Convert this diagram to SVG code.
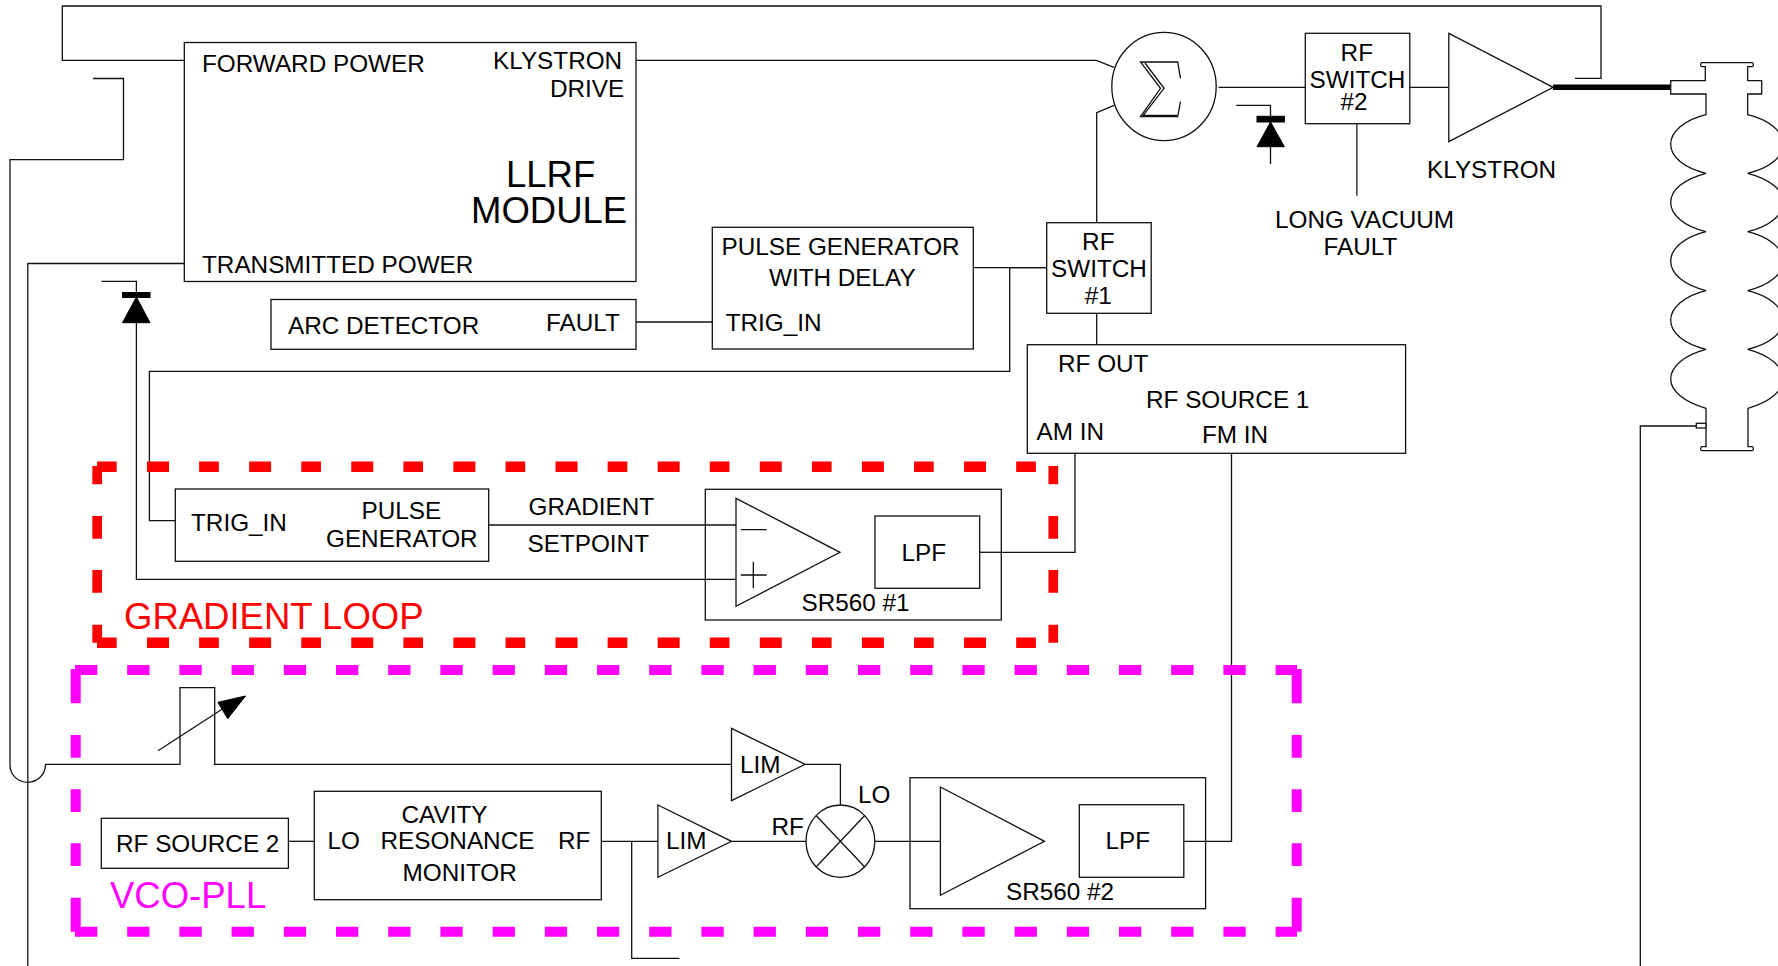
<svg xmlns="http://www.w3.org/2000/svg" width="1778" height="966" viewBox="0 0 1778 966">
<style>
rect,polygon,ellipse,.o{fill:#fff;stroke:#111;stroke-width:1.3}
.c path,.c line,.o{fill:none;stroke:#111;stroke-width:1.3}
.k{fill:#000;stroke:#000;stroke-width:1}
text{font-family:"Liberation Sans",Arial,sans-serif;font-size:24.3px;fill:#000}
.b{font-size:36.5px}
.dr{fill:none;stroke:#f00;stroke-width:10.5}
.dv{stroke-width:9.7}
.dm{fill:none;stroke:#f0f;stroke-width:10}
.lr{font-size:36.5px;fill:#f00}
.lm{font-size:36.5px;fill:#f0f}
.m{text-anchor:middle}
</style>
<g id="connectors" class="c">
<path d="M184 60.3H62.3V6H1601V78.3H1575"/>
<path d="M93 78.5H123.5V159.7H10V765C10 775 18 782.3 27.7 782.3C37 782.3 45.5 775 45.5 764.3H180V687.7H214.7V764.3H731.5"/>
<path d="M184 263.5H27.8V966"/>
<path d="M101.5 281.3H136.4V579.3H736"/>
<path d="M1046.7 267.7H1009.7V371.3H149.4V520.7H175.3"/>
<path d="M636 322H712.3"/>
<path d="M973.3 267.7H1046.7"/>
<path d="M636 60.3H1096.4L1114 67.3"/>
<path d="M1096.7 222.7V112.7L1114 105.3"/>
<path d="M1096.7 313.3V344.7"/>
<path d="M1075 453.3V552.3H979.7"/>
<path d="M840 552.3H875"/>
<path d="M488.7 525H736"/>
<path d="M1218.5 87.3H1305.3"/>
<path d="M1409.8 87.3H1448.8"/>
<path d="M1356.9 123.7V195.7"/>
<path d="M1236.2 105.3H1270.5V164"/>
<path d="M1553 87.3H1670.7" style="stroke:#000;stroke-width:5.5"/>
<path d="M1696.3 426H1640.3V966"/>
<path d="M805.2 764.3H840.4V805"/>
<path d="M731.5 841.3H806"/>
<path d="M874.8 841.3H940.4"/>
<path d="M1044.5 841.3H1079.3"/>
<path d="M1183.8 841.3H1231.5V453.3"/>
<path d="M288.4 841.3H314.3"/>
<path d="M601.3 841.3H657.9"/>
<path d="M631.7 841.3V958.3H679.5"/>
<line x1="158" y1="750.7" x2="224" y2="708"/>
<polygon class="k" points="245.5,696 217.9,702.3 227.7,718.7"/>
<polygon class="k" points="136.4,297 122.5,322.7 150,322.7"/>
<rect class="k" x="122.5" y="292.5" width="27.5" height="5"/>
<polygon class="k" points="1270.5,122 1257,146.7 1284.4,146.7"/>
<rect class="k" x="1257" y="116.3" width="27.4" height="5.7"/>
</g>
<g id="gradient-loop-boundary">
<path class="dr" d="M97 466.7H1053.3" stroke-dasharray="19.7 30.3 22 30.13" />
<path class="dr" d="M97 642.7H1053.3" stroke-dasharray="19.7 30.3 22 30.13" />
<path class="dr dv" d="M97.2 466V643" stroke-dasharray="18.3 31.7 22.7 31.3 22.7 32 18"/>
<path class="dr dv" d="M1053.3 466V643" stroke-dasharray="18.3 31.7 22.7 31.3 22.7 32 18"/>
<text class="lr" x="124" y="629">GRADIENT LOOP</text>
</g>
<g id="vco-pll-boundary">
<path class="dm" d="M75 670H1297" stroke-dasharray="22.3 29.9"/>
<path class="dm" d="M75 931.7H1297" stroke-dasharray="22.3 29.9"/>
<path class="dm" d="M75.7 669V932" stroke-dasharray="34.3 31.7 22.7 31.6 22.7 31.3 22.7 31.7 34"/>
<path class="dm" d="M1296.7 669V932" stroke-dasharray="34.3 31.7 22.7 31.6 22.7 31.3 22.7 31.7 34"/>
<text class="lm" x="110" y="908.3">VCO-PLL</text>
</g>
<g id="lrf-module">
<rect x="184.3" y="42.5" width="451.7" height="239"/>
<text x="202" y="71.7">FORWARD POWER</text>
<text x="493" y="69.3">KLYSTRON</text>
<text x="550" y="96.7">DRIVE</text>
<text class="b" x="506" y="186.7">LLRF</text>
<text class="b" x="471" y="222.7">MODULE</text>
<text x="202" y="272.7">TRANSMITTED POWER</text>
</g>
<g id="arc-detector">
<rect x="271" y="299.5" width="365" height="49.8"/>
<text x="288" y="334">ARC DETECTOR</text>
<text x="546" y="330.7">FAULT</text>
</g>
<g id="pulse-generator-with-delay">
<rect x="712.3" y="227.3" width="261" height="121.7"/>
<text x="721.5" y="255">PULSE GENERATOR</text>
<text x="769" y="286">WITH DELAY</text>
<text x="725.7" y="330.7">TRIG_IN</text>
</g>
<g id="rf-switch-1">
<rect x="1046.7" y="222.7" width="104.5" height="90.6"/>
<text class="m" x="1098.3" y="250">RF</text>
<text class="m" x="1099" y="276.7">SWITCH</text>
<text class="m" x="1098.3" y="304">#1</text>
</g>
<g id="rf-source-1">
<rect x="1027.3" y="344.7" width="378.3" height="108.6"/>
<text x="1058" y="372">RF OUT</text>
<text x="1146" y="407.7">RF SOURCE 1</text>
<text x="1036.5" y="440">AM IN</text>
<text x="1202" y="443.3">FM IN</text>
</g>
<g id="summer">
<ellipse cx="1164" cy="86.5" rx="52.2" ry="54.2"/>
<path class="o" d="M1180.5 78.3L1177.7 62H1140.5L1160.5 88.3L1140.5 116.7H1177.7L1180.5 101.7"/>
<path class="o" d="M1145 63L1164 88.3L1143 115.5H1177"/>
</g>
<g id="rf-switch-2">
<rect x="1305.3" y="33.3" width="104.5" height="90.4"/>
<text class="m" x="1356.8" y="61">RF</text>
<text class="m" x="1357.5" y="87.7">SWITCH</text>
<text class="m" x="1354" y="110">#2</text>
</g>
<g id="klystron">
<polygon points="1448.8,33.3 1448.8,141.7 1553.2,87.3"/>
<text x="1427" y="177.7">KLYSTRON</text>
</g>
<g id="long-vacuum-fault">
<text x="1275" y="227.7">LONG VACUUM</text>
<text x="1323.5" y="255">FAULT</text>
</g>
<g id="cavity">
<path class="o" d="M1670.7 80.7H1705.3V66.7H1702Q1700.7 66.7 1700.7 65V64.4Q1700.7 62.7 1702 62.7H1752Q1753.3 62.7 1753.3 64.4V65Q1753.3 66.7 1752 66.7H1747.7V80.7H1761.7V94H1747.7V114.7C1770 120 1783 132 1783 144C1783 157 1770 168 1747.7 173.3C1770 179 1783 190 1783 202.5C1783 215 1770 226 1747.7 231.7C1770 237 1783 249 1783 261C1783 274 1770 285 1747.7 290.7C1770 296 1783 308 1783 320C1783 333 1770 344 1747.7 349.3C1770 355 1783 367 1783 379C1783 391 1770 402 1748 408.3V446.7H1752Q1753.3 446.7 1753.3 448.4V449Q1753.3 450.7 1752 450.7H1702Q1700.7 450.7 1700.7 449V448.4Q1700.7 446.7 1702 446.7H1706V408.3C1684 402 1670.7 391 1670.7 379C1670.7 367 1684 355 1706 349.3C1684 344 1670.7 333 1670.7 320C1670.7 308 1684 296 1706 290.7C1684 285 1670.7 274 1670.7 261C1670.7 249 1684 237 1706 231.7C1684 226 1670.7 215 1670.7 202.5C1670.7 190 1684 179 1706 173.3C1684 168 1670.7 157 1670.7 144C1670.7 132 1684 120 1706 114.7V94H1670.7Z"/>
<rect x="1696.3" y="423.3" width="9.7" height="4.7"/>
</g>
<g id="pulse-generator">
<rect x="175.3" y="489" width="313.4" height="72.3"/>
<text x="191" y="531">TRIG_IN</text>
<text x="361.5" y="519.3">PULSE</text>
<text x="326" y="546.7">GENERATOR</text>
</g>
<g id="gradient-setpoint">
<text x="528.5" y="515">GRADIENT</text>
<text x="527.5" y="551.7">SETPOINT</text>
</g>
<g id="sr560-1">
<rect x="705.3" y="489.3" width="296" height="130.7"/>
<path class="o" d="M705.3 525H736M705.3 579.3H736"/>
<polygon points="736,498.3 736,606.3 840,552.3"/>
<path class="o" d="M740.7 529.7H766.7M740.7 575H766.7M753.3 561.7V588.3"/>
<rect x="875" y="516" width="104.7" height="72.3"/>
<text x="901.5" y="560.7">LPF</text>
<text x="801.5" y="610.7">SR560 #1</text>
<path class="o" d="M979.7 552.3H1001.3"/>
</g>
<g id="rf-source-2">
<rect x="101.3" y="818.3" width="187.1" height="50"/>
<text x="116" y="852.3">RF SOURCE 2</text>
</g>
<g id="cavity-resonance-monitor">
<rect x="314.3" y="791.3" width="287" height="108.4"/>
<text x="327.5" y="849.3">LO</text>
<text x="401.5" y="822.7">CAVITY</text>
<text x="380.5" y="849.3">RESONANCE</text>
<text x="402.5" y="880.7">MONITOR</text>
<text x="558" y="849.3">RF</text>
</g>
<g id="lim-1">
<polygon points="731.5,728.3 731.5,800.7 805.2,764.3"/>
<text x="740" y="773.3">LIM</text>
</g>
<g id="lim-2">
<polygon points="657.9,805 657.9,877.3 731.5,841.3"/>
<text x="666" y="849.3">LIM</text>
</g>
<g id="mixer">
<ellipse cx="840.4" cy="841.2" rx="34.4" ry="36.2"/>
<path class="o" d="M816.3 815.7L864.5 866.7M864.5 815.7L816.3 866.7"/>
<text x="771.5" y="835">RF</text>
<text x="858" y="803.3">LO</text>
</g>
<g id="sr560-2">
<rect x="910" y="777.7" width="295.6" height="131"/>
<path class="o" d="M910 841.3H940.4M1183.8 841.3H1205.6"/>
<polygon points="940.4,787 940.4,895.3 1044.5,841.3"/>
<rect x="1079.3" y="804.7" width="104.5" height="72.6"/>
<text x="1105.5" y="849.3">LPF</text>
<text x="1006" y="900">SR560 #2</text>
</g>
</svg>
